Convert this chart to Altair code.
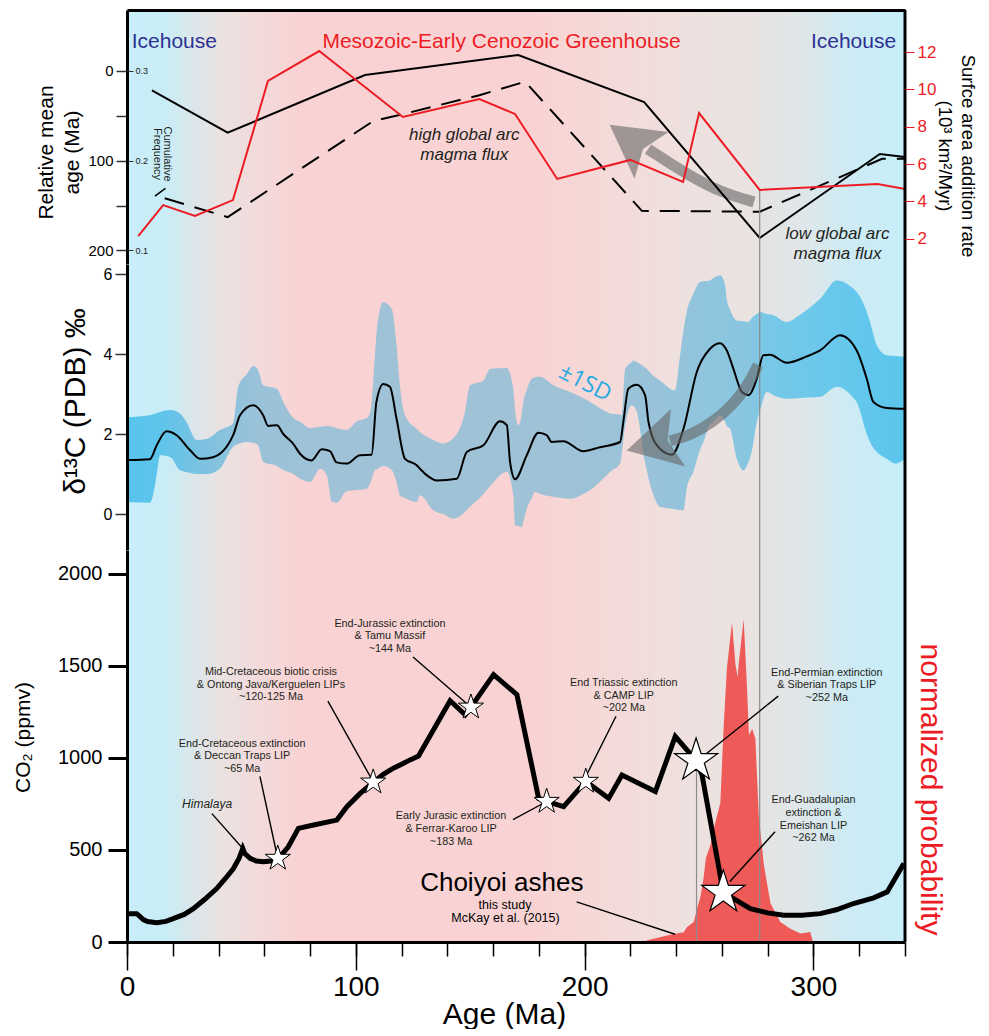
import altair as alt
import pandas as pd

FONT = "Liberation Sans"
RED = "#ed1c24"
BLUE_TXT = "#2e3192"
SD_BLUE = "#27aae1"
ARROW = "#666666"
VLINE = "#8c8c8c"

# ---------------- data ----------------
# top panel: relative mean age (Ma), black solid
age_x = [10.9, 44.0, 104.0, 171.0, 226.0, 276.5, 329.0, 340.0]
age_y = [21.5, 68.8, 4.5, -17.8, 34.6, 186.2, 92.6, 95.9]
# cumulative frequency, black dashed
cf_x = [16.5, 44.0, 107.5, 124.0, 154.0, 174.0, 225.0, 276.5, 330.0, 340.0]
cf_y = [0.158, 0.137, 0.244, 0.254, 0.273, 0.288, 0.144, 0.143, 0.202, 0.202]
# surface area addition rate (10^3 km2/Myr), red
rate_x = [4.9, 15.8, 29.7, 46.3, 61.6, 84.0, 120.6, 154.0, 169.6, 188.0, 220.0, 243.0, 250.0, 276.5, 328.0, 340.0]
rate_y = [2.14, 3.8, 3.22, 4.07, 10.45, 12.05, 8.52, 9.48, 8.68, 5.2, 6.22, 5.04, 8.73, 4.61, 4.93, 4.66]

# middle panel: d13C mean curve
d13_x = [0.4, 10, 13, 17.3, 21.7, 27.5, 31.9, 37.6, 46.4, 49.4, 55.1, 59.5, 61.7, 65.5, 68.3, 72.7, 75.7,
         80.7, 85.1, 88.7, 91.6, 96, 101.8, 106.9, 109, 112, 114.9, 117.8, 121.5, 126.6, 128, 135.4, 144.1,
         148.5, 155.8, 163, 166, 167.4, 169.6, 174.7, 179.8, 183.4, 185.6, 190.7, 199.4, 206.7, 215.5, 216.9,
         219.1, 222.8, 226.4, 227.9, 231.5, 238.1, 243.2, 249, 254.8, 259.2, 262.1, 265, 268.7, 271.6, 275.2,
         278.1, 281, 288.3, 297.1, 302.9, 311.6, 318.9, 323.3, 326.2, 332, 340]
d13_y = [1.35, 1.37, 1.72, 2.07, 1.97, 1.6, 1.38, 1.42, 1.97, 2.47, 2.72, 2.47, 2.2, 2.22, 2.0, 1.75, 1.5,
         1.34, 1.62, 1.57, 1.29, 1.26, 1.47, 1.48, 2.8, 3.25, 3.18, 2.38, 1.38, 1.22, 1.13, 0.84, 0.88,
         1.55, 1.72, 2.32, 2.22, 1.3, 0.87, 1.47, 2.03, 1.97, 1.8, 1.82, 1.57, 1.67, 1.8, 2.3,
         3.13, 3.23, 2.97, 2.3, 1.72, 1.48, 2.13, 3.55, 4.13, 4.27, 4.09, 3.63, 3.05, 2.97, 3.38,
         3.97, 3.98, 3.78, 3.94, 4.09, 4.47, 4.09, 3.38, 2.8, 2.65, 2.63]
# +/- 1SD band
band_x = [0, 10, 11.5, 13, 14.5, 19, 23, 26, 30.5, 35, 40.6, 46.4, 48.6, 52.4, 55.2, 57.3, 59.5, 65.5, 68.3,
          72.7, 75.7, 80, 84.4, 87.3, 89.5, 91.6, 96, 100.4, 104.8, 106.5, 108.4, 109.2, 112, 115.7, 117.8,
          119.3, 121.5, 126.6, 128, 133.9, 138.2, 142.6, 144.1, 147.7, 149.9, 155.8, 158.7, 166, 168.8, 169.6,
          171, 172.5, 173.2, 174.7, 176.9, 178.3, 180.5, 186.3, 193.6, 200.9, 202.4, 209.7, 211.1, 215.5,
          216.2, 217.7, 220.6, 221.3, 222.8, 226.4, 227.1, 230.1, 232.9, 239.5, 241.7, 243.2, 244.6, 247.5,
          250.4, 251.9, 254.8, 256.2, 259.2, 261.4, 262.1, 263.6, 266.5, 269.4, 271.6, 273, 275.2, 276.7,
          279.6, 282.5, 288.3, 294.1, 302.9, 310.2, 317.5, 318.9, 323.3, 324.7, 327.7, 332, 335.7, 340]
band_lo = [0.3, 0.28, 0.5, 1.0, 1.47, 1.42, 1.1, 1.05, 1.0, 1.0, 1.13, 1.68, 1.75, 1.8, 1.78, 1.72, 1.3, 1.2, 1.1,
           1.0, 0.88, 0.8, 1.13, 0.97, 0.3, 0.28, 0.57, 0.6, 0.63, 0.8, 1.1, 1.12, 1.2, 1.1, 0.8,
           0.47, 0.4, 0.3, 0.47, 0.09, 0.0, -0.12, -0.1, 0.05, 0.18, 0.5, 0.7, 1.05, 0.47, -0.28,
           -0.3, -0.33, -0.2, 0.13, 0.4, 0.55, 0.5, 0.43, 0.38, 0.55, 0.6, 0.97, 1.05, 1.26,
           1.5, 2.2, 2.72, 2.7, 2.55, 1.3, 1.1, 0.47, 0.18, 0.12, 0.1, 0.09, 0.63, 1.05,
           1.6, 1.8, 2.25, 2.3, 2.47, 2.3, 2.2, 2.13, 1.38, 1.09, 1.3, 1.55, 2.3, 2.6,
           3.05, 2.97, 2.88, 2.9, 2.93, 3.18, 2.9, 2.8, 2.0, 1.8, 1.55, 1.38, 1.26, 1.38]
band_hi = [2.42, 2.47, 2.5, 2.52, 2.55, 2.6, 2.52, 2.3, 1.85, 1.88, 2.1, 2.27, 3.18, 3.5, 3.7, 3.6, 3.22, 3.13, 2.8,
           2.4, 2.3, 2.15, 2.18, 2.2, 2.18, 2.15, 2.1, 2.32, 2.4, 2.6, 4.0, 4.63, 5.3, 5.13, 4.22,
           3.2, 2.47, 2.13, 2.05, 1.85, 1.76, 1.9, 2.0, 2.55, 3.22, 3.34, 3.63, 3.65, 3.13, 2.6,
           2.22, 2.5, 2.8, 3.1, 3.38, 3.42, 3.43, 3.22, 3.05, 2.85, 2.8, 2.55, 2.51, 2.48,
           2.47, 3.63, 3.8, 3.84, 3.8, 3.66, 3.63, 3.45, 3.34, 3.09, 3.97, 4.6, 5.05, 5.5,
           5.8, 5.82, 5.84, 5.9, 5.97, 5.72, 5.38, 5.1, 4.84, 4.82, 4.8, 4.9, 5.0, 5.05,
           5.0, 4.97, 4.8, 4.98, 5.38, 5.84, 5.63, 5.55, 5.05, 4.8, 4.22, 3.97, 3.95, 3.93]

# bottom panel: CO2 (ppmv)
co2_x = [0, 4.2, 5.5, 7.1, 9, 13, 17, 20.2, 25, 29, 34, 39.2, 43, 46.5, 49, 50.6, 51.5, 53.8, 56.5, 59.6, 63,
         66.2, 70.5, 74.9, 81.5, 91.7, 96.1, 101.9, 107.7, 112, 116.4, 120, 123.7, 127.4, 141.2, 147.8, 150.3,
         160.2, 170.4, 179.9, 183.4, 190.8, 200.5, 210.5, 216.3, 230.9, 239.6, 248.7, 251.3, 260.6, 265.1,
         272.4, 280, 287, 295, 303, 310, 317.5, 326.3, 332.2, 339.5]
co2_y = [154, 154, 140, 122, 111, 105, 112, 127, 150, 181, 232, 290, 345, 399, 455, 508, 480, 454, 440, 436, 440,
         454, 517, 617, 635, 662, 735, 807, 868, 910, 944, 965, 989, 1010, 1310, 1234, 1275,
         1452, 1343, 780, 763, 735, 872, 780, 907, 817, 1116, 985, 907, 269, 236,
         181, 158, 145, 145, 154, 175, 209, 240, 272, 426]
# Choiyoi ashes age distribution (normalized probability)
prob_x = [227, 236, 239, 243.3, 244.7, 247.7, 249, 250.6, 252, 253, 255, 257.1, 259.3, 260.7, 262.2, 264.4,
          265.9, 266.9, 267.3, 269.5, 271, 271.8, 273.2, 274.6, 276.1, 278.3, 281.2, 285.5, 289.9, 294.3,
          298.6, 299.8]
prob_y = [0.005, 0.02, 0.025, 0.03, 0.046, 0.062, 0.10, 0.14, 0.2, 0.26, 0.3, 0.37, 0.43, 0.66, 0.85, 0.99,
          0.86, 0.82, 0.86, 1.0, 0.78, 0.64, 0.66, 0.63, 0.39, 0.24, 0.12, 0.062, 0.041, 0.026,
          0.031, 0.0]

# event stars (age, CO2)
star_small_x = [65.9, 107.6, 150.3, 183.4, 200.5]
star_small_y = [454, 868, 1275, 763, 872]
star_big_x = [248.7, 260.6]
star_big_y = [985, 269]

# annotation labels (anchor = first line, in data units)
ann_text = ["End-Jurassic extinction\n& Tamu Massif\n~144 Ma",
            "Mid-Cretaceous biotic crisis\n& Ontong Java/Kerguelen LIPs\n~120-125 Ma",
            "End-Cretaceous extinction\n& Deccan Traps LIP\n~65 Ma",
            "Early Jurasic extinction\n& Ferrar-Karoo LIP\n~183 Ma",
            "End Triassic extinction\n& CAMP LIP\n~202 Ma",
            "End-Permian extinction\n& Siberian Traps LIP\n~252 Ma",
            "End-Guadalupian\nextinction &\nEmeishan LIP\n~262 Ma"]
ann_x = [114.9, 62.9, 50.3, 141.6, 217.1, 305.8, 300.0]
ann_y = [1728, 1466, 1077, 683, 1406, 1462, 769]
# leader lines: start (x, y) -> end (x2, y2)
lead_x = [125.0, 87.8, 58.1, 37.1, 168.7, 213.7, 284.6, 283.2, 196.5]
lead_y = [1548, 1308, 899, 697, 665, 1226, 1335, 599, 218]
lead_x2 = [150.3, 107.5, 65.9, 50.6, 183.4, 200.9, 252.6, 263.4, 239.5]
lead_y2 = [1275, 872, 452, 508, 763, 908, 1017, 327, 42]

# arrows (centre line of shaft, and head position / direction)
arr1_x = [274.0, 259.2, 246.1, 235.1, 227.7]
arr1_y = [146.1, 134.9, 117.1, 99.3, 87.0]
arr2_x = [275.8, 271.4, 264.8, 256.1, 247.4, 237.3]
arr2_y = [3.725, 3.225, 2.725, 2.3, 2.0, 1.825]

# ---------------- layout constants ----------------
W = 778
H1, H2, H3 = 254, 286, 392
XS = alt.Scale(domain=[0, 340], nice=False, zero=False)
AGE_S = alt.Scale(domain=[-68.0, 215.2], reverse=True, nice=False, zero=False)
CF_S = alt.Scale(domain=[0.0847, 0.3680], nice=False, zero=False)
RATE_S = alt.Scale(domain=[0.645, 14.25], nice=False, zero=False)
D13_S = alt.Scale(domain=[-0.9, 6.25], nice=False, zero=False)
CO2_S = alt.Scale(domain=[0, 2128.7], nice=False, zero=False)
PROB_S = alt.Scale(domain=[0, 1.2136], nice=False, zero=False)

STAR = ("M0,-1L0.2245,-0.309L0.951,-0.309L0.363,0.118L0.588,0.809L0,0.382"
        "L-0.588,0.809L-0.363,0.118L-0.951,-0.309L-0.2245,-0.309Z")
HEAD = "M0,-1L0.95,0.7L0,0.35L-0.95,0.7Z"

BG_STOPS = [(0.0, "#c8eef9"), (0.05, "#c9edf7"), (0.085, "#dbe6ea"), (0.12, "#eae2e1"),
            (0.17, "#f3dadb"), (0.22, "#f9d3d3"), (0.52, "#f9d3d3"), (0.62, "#f4dad8"),
            (0.72, "#eee1df"), (0.81, "#e9e3e2"), (0.815, "#e4e4e4"), (0.86, "#e1e6e8"),
            (0.93, "#cdebf4"), (1.0, "#c7eef9")]
BAND_STOPS = [(0.0, "#58c4ec"), (0.04, "#5cc4eb"), (0.10, "#7ec2e0"), (0.16, "#98c2d9"),
              (0.25, "#9fc2d6"), (0.55, "#9fc2d6"), (0.68, "#98c3da"), (0.80, "#88c6e0"),
              (0.82, "#78c8e6"), (0.92, "#66c8ec"), (1.0, "#5ac5ec")]


def grad(stops):
    return alt.LinearGradient(gradient="linear", x1=0, x2=1, y1=0, y2=0,
                              stops=[alt.GradientStop(offset=o, color=c) for o, c in stops])


bg_df = pd.DataFrame({"x0": [0], "x1": [340]})

# ---------------- axes ----------------
top_axis = alt.Axis(orient="top", labels=False, ticks=False, domain=True, domainWidth=3,
                    domainColor="black", title=None, grid=False, zindex=1)
age_axis = alt.Axis(orient="left", values=[0, 50, 100, 150, 200],
                    labelExpr="datum.value % 100 === 0 ? datum.label : ''",
                    tickSize=11, tickWidth=1.5, tickColor="#333333", domainWidth=3, domainColor="black",
                    labelFontSize=15, labelPadding=3, labelColor="black",
                    title=["Relative mean", "age (Ma)"], titleFontSize=21, titleFontWeight="normal",
                    titleLineHeight=26, titleAngle=270, titleBaseline="middle", titleAlign="center",
                    titleX=-81, titleY=142, grid=False, zindex=1)
cf_axis = alt.Axis(orient="right", offset=-W, values=[0.1, 0.2, 0.3], format=".1f", tickSize=6,
                   tickWidth=1, tickColor="#333333", labelFontSize=9, labelPadding=2, labelColor="#222222",
                   domain=False, title=None, grid=False, zindex=1)
rate_axis = alt.Axis(orient="right", values=[2, 4, 6, 8, 10, 12], tickSize=9, tickWidth=1, tickColor=RED,
                     labelColor=RED, labelFontSize=17, labelPadding=3, domain=False,
                     title=["Surfce area addition rate", "(10³ km²/Myr)"], titleFontSize=18.5,
                     titleFontWeight="normal", titleLineHeight=23, titleAngle=90, titleBaseline="middle",
                     titleAlign="center", titleX=62, titleY=145.5, titleColor="black", grid=False, zindex=1)
d13_axis = alt.Axis(orient="left", values=[0, 2, 4, 6], tickSize=12, tickWidth=1.5, tickColor="#333333",
                    domainWidth=3, domainColor="black", labelFontSize=16, labelPadding=3,
                    title="δ¹³C (PDB) ‰", titleFontSize=30, titleFontWeight="normal", titleAngle=270,
                    titleBaseline="middle", titleAlign="center", titleX=-52, titleY=137, grid=False,
                    zindex=1)
x_major = alt.Axis(orient="bottom", values=[0, 100, 200, 300], tickSize=28, tickWidth=1.5,
                   tickColor="black", domainWidth=3, domainColor="black", labelFontSize=28,
                   labelPadding=3, labelColor="black", title="Age (Ma)", titleFontSize=30,
                   titleFontWeight="normal", titleX=377, titleY=81, titleBaseline="alphabetic",
                   titleAlign="center", grid=False, zindex=1)
x_minor = alt.Axis(orient="bottom", values=list(range(0, 341, 20)), tickSize=14, tickWidth=1.5,
                   tickColor="black", domain=False, labels=False, title=None, grid=False, zindex=1)
co2_axis = alt.Axis(orient="left", values=[0, 500, 1000, 1500, 2000], format="d", tickSize=19, tickWidth=3,
                    tickColor="black", domainWidth=3, domainColor="black", labelFontSize=20,
                    labelPadding=6, labelColor="black", title="CO₂ (ppmv)", titleFontSize=21,
                    titleFontWeight="normal", titleAngle=270, titleBaseline="middle", titleAlign="center",
                    titleX=-104, titleY=187, grid=False, zindex=1)
prob_axis = alt.Axis(orient="right", labels=False, ticks=False, domain=False, grid=False,
                     title="normalized probability", titleColor=RED, titleFontSize=30,
                     titleFontWeight="normal", titleAngle=90, titleBaseline="middle", titleAlign="center",
                     titleX=24, titleY=239)


class Enc:
    """Encoding helper: every layer sharing a scale gets the identical axis spec."""

    def __init__(self, xaxis, yscale=None, yaxis=None):
        self.xaxis, self.yscale, self.yaxis = xaxis, yscale, yaxis

    def x(self, field):
        return alt.X(f"{field}:Q", scale=XS, axis=self.xaxis)

    def y(self, field):
        return alt.Y(f"{field}:Q", scale=self.yscale, axis=self.yaxis)

    def background(self):
        return alt.Chart(bg_df).mark_rect(color=grad(BG_STOPS)).encode(x=self.x("x0"), x2="x1:Q")

    def border(self):
        return alt.Chart(bg_df).mark_rule(color="black", strokeWidth=3).encode(x=self.x("x1"))

    def line(self, xs, ys, **kw):
        return alt.Chart(pd.DataFrame({"x": xs, "y": ys})).mark_line(**kw).encode(
            x=self.x("x"), y=self.y("y"))

    def point(self, xs, ys, **kw):
        return alt.Chart(pd.DataFrame({"x": xs, "y": ys})).mark_point(**kw).encode(
            x=self.x("x"), y=self.y("y"))

    def seg(self, xs, ys, x2s, y2s, **kw):
        return alt.Chart(pd.DataFrame({"x": xs, "y": ys, "x2": x2s, "y2": y2s})).mark_rule(**kw).encode(
            x=self.x("x"), x2="x2:Q", y=self.y("y"), y2="y2:Q")

    def vline(self, xv, **kw):
        return alt.Chart(pd.DataFrame({"x": [xv]})).mark_rule(**kw).encode(x=self.x("x"))

    def text(self, xs, ys, ts, font=FONT, **kw):
        return alt.Chart(pd.DataFrame({"x": xs, "y": ys, "t": ts})).mark_text(
            font=font, lineBreak="\n", **kw).encode(x=self.x("x"), y=self.y("y"), text="t:N")


# ---------------- panel 1 ----------------
eA = Enc(top_axis, AGE_S, age_axis)
eB = Enc(top_axis, CF_S, cf_axis)
eC = Enc(top_axis, RATE_S, rate_axis)

groupA = alt.layer(
    eA.background(),
    eA.line(arr1_x, arr1_y, color=ARROW, opacity=0.6, strokeWidth=11, interpolate="basis", strokeCap="butt"),
    eA.point([221.7], [80.0], shape=HEAD, filled=True, color=ARROW, opacity=0.6, size=3700, angle=306),
    eA.line(age_x, age_y, color="black", strokeWidth=2),
    eA.text([2.05], [-32.3], ["Icehouse"], fontSize=21, color=BLUE_TXT, align="left", baseline="middle"),
    eA.text([317.5], [-32.3], ["Icehouse"], fontSize=21, color=BLUE_TXT, align="center", baseline="middle"),
    eA.text([163.7], [-32.3], ["Mesozoic-Early Cenozoic Greenhouse"], fontSize=21, color=RED,
            align="center", baseline="middle"),
    eA.text([147.4, 310.5], [71.4, 181.8], ["high global arc\nmagma flux", "low global arc\nmagma flux"],
            fontSize=17, fontStyle="italic", lineHeight=20, color="#231f20", align="center", baseline="middle"),
    eA.text([17.5], [92.6], ["Cumulative\nFrequency"], fontSize=11, lineHeight=10.5, angle=90,
            color="#231f20", align="center", baseline="middle"),
    eA.seg([12.2], [139.4], [16.8], [131.0], color="black", strokeWidth=1.5),
)
groupB = eB.line(cf_x, cf_y, color="black", strokeWidth=2, strokeDash=[20, 11])
groupC = alt.layer(
    eC.seg([276.5], [4.61], [276.5], [0.645], color=VLINE, strokeWidth=1.2),
    eC.line(rate_x, rate_y, color=RED, strokeWidth=2),
    eC.border(),
)
p1 = alt.layer(groupA, groupB, groupC).resolve_scale(y="independent").properties(width=W, height=H1)

# ---------------- panel 2 ----------------
e2 = Enc(None, D13_S, d13_axis)
band = alt.Chart(pd.DataFrame({"x": band_x, "lo": band_lo, "hi": band_hi})).mark_area(
    color=grad(BAND_STOPS), interpolate="monotone").encode(x=e2.x("x"), y=e2.y("lo"), y2="hi:Q")
p2 = alt.layer(
    e2.background(),
    band,
    e2.vline(276.5, color=VLINE, strokeWidth=1.2),
    e2.line(d13_x, d13_y, color="black", strokeWidth=2, interpolate="monotone"),
    e2.line(arr2_x, arr2_y, color=ARROW, opacity=0.6, strokeWidth=11, interpolate="basis", strokeCap="butt"),
    e2.point([231.6], [1.775], shape=HEAD, filled=True, color=ARROW, opacity=0.6, size=3890, angle=256),
    e2.text([200.2], [3.275], ["±1SD"], font="Open Sans", fontSize=23, color=SD_BLUE, angle=27,
            align="center", baseline="middle"),
    e2.border(),
).properties(width=W, height=H2)

# ---------------- panel 3 ----------------
eBg = Enc(x_major)
eP = Enc(x_minor, PROB_S, prob_axis)
e3 = Enc(None, CO2_S, co2_axis)

prob_area = alt.Chart(pd.DataFrame({"x": prob_x, "p": prob_y})).mark_area(
    color="#ee5a58", interpolate="linear").encode(x=eP.x("x"), y=eP.y("p"))
co2_group = alt.layer(
    e3.vline(276.5, color=VLINE, strokeWidth=1.2),
    e3.seg([248.9], [985], [248.9], [0], color=VLINE, strokeWidth=1.2),
    e3.line(co2_x, co2_y, color="black", strokeWidth=5, strokeJoin="miter"),
    e3.seg(lead_x, lead_y, lead_x2, lead_y2, color="black", strokeWidth=1.4),
    e3.point(star_small_x, star_small_y, shape=STAR, filled=True, fill="white", stroke="black",
             strokeWidth=1, size=700, opacity=1),
    e3.point(star_big_x, star_big_y, shape=STAR, filled=True, fill="white", stroke="black",
             strokeWidth=1.2, size=2050, opacity=1),
    e3.text(ann_x, ann_y, ann_text, fontSize=10.8, lineHeight=12.7, color="#231f20",
            align="center", baseline="middle"),
    e3.text([35.0], [747], ["Himalaya"], fontSize=12, fontStyle="italic", color="#231f20",
            align="center", baseline="middle"),
    e3.text([163.8], [322], ["Choiyoi ashes"], fontSize=26, color="black", align="center", baseline="middle"),
    e3.text([165.2, 165.4], [200, 128], ["this study", "McKay et al. (2015)"], fontSize=12.5, color="black",
            align="center", baseline="middle"),
    e3.border(),
)
p3 = alt.layer(eBg.background(), prob_area, co2_group).resolve_scale(
    y="independent").resolve_axis(x="independent").properties(width=W, height=H3)

chart = alt.vconcat(p1, p2, p3, spacing=0, bounds="flush").properties(
    padding={"left": 4, "top": 0, "right": 3, "bottom": 0}
).configure(font=FONT).configure_view(stroke=None).configure_axis(
    grid=False, labelFont=FONT, titleFont=FONT, labelOverlap=False, labelFlush=False)

chart.save("out.html", embed_options={"renderer": "svg", "actions": False})
